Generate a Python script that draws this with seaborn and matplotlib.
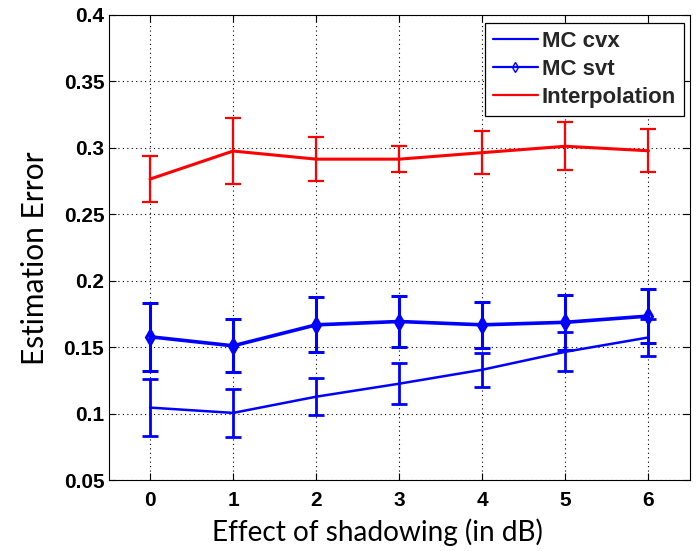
import numpy as np
import pandas as pd
import matplotlib
matplotlib.use("Agg")
import matplotlib.pyplot as plt
import seaborn as sns

# Shadowing levels (dB)
shadowing_db = [0, 1, 2, 3, 4, 5, 6]

# Mean estimation error and error-bar half widths per method
mc_cvx = [0.1045, 0.1005, 0.1127, 0.1225, 0.1330, 0.1465, 0.1573]
mc_cvx_err = [0.0215, 0.0180, 0.0140, 0.0154, 0.0129, 0.0147, 0.0140]

mc_svt = [0.1578, 0.1510, 0.1668, 0.1693, 0.1668, 0.1687, 0.1734]
mc_svt_err = [0.0254, 0.0199, 0.0206, 0.0192, 0.0172, 0.0205, 0.0206]

interp = [0.2765, 0.2976, 0.2915, 0.2915, 0.2964, 0.3012, 0.2978]
interp_err = [0.0172, 0.0250, 0.0168, 0.0099, 0.0162, 0.0180, 0.0162]

series_names = ["MC cvx", "MC svt", "Interpolation"]
y_ticks = [0.05, 0.1, 0.15, 0.2, 0.25, 0.3, 0.35, 0.4]
y_tick_labels = ["0.05", "0.1", "0.15", "0.2", "0.25", "0.3", "0.35", "0.4"]

df = pd.DataFrame({
    "shadowing": shadowing_db * 3,
    "error": mc_cvx + mc_svt + interp,
    "err": mc_cvx_err + mc_svt_err + interp_err,
    "method": [n for n in series_names for _ in shadowing_db],
})

sns.set_theme(style="white")
plt.rcParams["font.family"] = ["Liberation Sans", "DejaVu Sans"]

fig = plt.figure(figsize=(6.96, 5.51), dpi=100)
ax = fig.add_axes([108.5 / 696, 1 - 480 / 551, 581.5 / 696, 465 / 551])

styles = {
    "MC cvx": dict(color="#0000ff", lw=1.8, marker=None, ms=0, elw=2.0),
    "MC svt": dict(color="#0000ff", lw=2.6, marker="d", ms=7, elw=2.2),
    "Interpolation": dict(color="#ff0000", lw=2.2, marker=None, ms=0, elw=1.6),
}

for name in series_names:
    sub = df[df["method"] == name]
    st = styles[name]
    sns.lineplot(data=sub, x="shadowing", y="error", ax=ax, color=st["color"],
                 lw=st["lw"], marker=st["marker"], markersize=st["ms"],
                 markerfacecolor="none", markeredgecolor=st["color"],
                 markeredgewidth=2.2, estimator=None, legend=False, zorder=4)
    ax.errorbar(sub["shadowing"], sub["error"], yerr=sub["err"], fmt="none",
                ecolor=st["color"], elinewidth=st["elw"], capsize=5.5,
                capthick=st["elw"], zorder=3)

ax.set_xlim(-0.5, 6.5)
ax.set_ylim(0.05, 0.4)
ax.set_xticks(shadowing_db)
ax.set_xticklabels([str(v) for v in shadowing_db])
ax.set_yticks(y_ticks)
ax.set_yticklabels(y_tick_labels)

ax.grid(True, color="black", linestyle=(0, (1, 3)), linewidth=0.8)
ax.set_axisbelow(True)
for sp in ax.spines.values():
    sp.set_visible(True)
    sp.set_color("black")
    sp.set_linewidth(0.8)

ax.tick_params(axis="both", which="major", direction="in", length=5, width=0.8,
               color="black", top=True, right=True, bottom=True, left=True,
               labelsize=15, labelcolor="black")
ax.tick_params(axis="x", pad=8)
ax.tick_params(axis="y", pad=3)
for lab in ax.get_xticklabels() + ax.get_yticklabels():
    lab.set_fontweight("bold")

ax.set_xlabel("Effect of shadowing (in dB)", fontsize=20.2, family="Lato",
              color="black")
ax.set_ylabel("Estimation Error", fontsize=21.5, family="Lato", color="black")
ax.xaxis.set_label_coords(0.4617, -0.112)
ax.xaxis.label.set_va("center")
ax.yaxis.set_label_coords(-0.1264, 0.4763)
ax.yaxis.label.set_va("center")

leg_handles = []
for name in series_names:
    st = styles[name]
    leg_handles.append(plt.Line2D([], [], color=st["color"], lw=1.6,
                                  marker=st["marker"], markersize=5,
                                  markerfacecolor="none",
                                  markeredgewidth=1.0))
leg = ax.legend(leg_handles, series_names, loc="upper right",
                bbox_to_anchor=(1 - 6 / 581.5, 1 - 8 / 465),
                borderaxespad=0, frameon=True, fancybox=False,
                edgecolor="black", framealpha=1, handlelength=2.0,
                handletextpad=0.2, labelspacing=0.32, borderpad=0.35,
                prop={"family": "Liberation Sans", "weight": "bold", "size": 16})
leg.get_frame().set_linewidth(0.9)

fig.savefig("out.png", dpi=100)
